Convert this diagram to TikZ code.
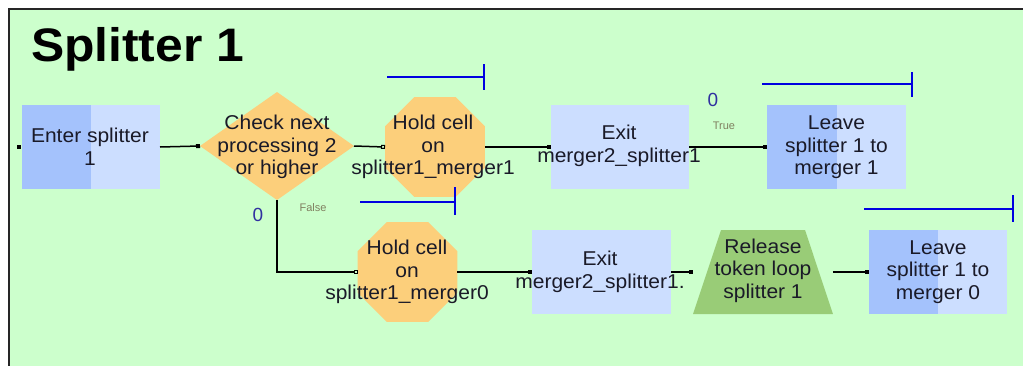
\documentclass[tikz,border=0pt]{standalone}
\usepackage{fontspec}
\setmainfont{Liberation Sans}
\newfontfamily\nodefont[FakeStretch=1.05]{Liberation Sans}
\newfontfamily\titlefont[FakeStretch=1.06]{Liberation Sans}
\usetikzlibrary{shapes.geometric,arrows.meta}
\definecolor{bg}{HTML}{CCFFCC}
\definecolor{dblue}{HTML}{A4C2FC}
\definecolor{lblue}{HTML}{CCDEFF}
\definecolor{orng}{HTML}{FCCF7B}
\definecolor{trgreen}{HTML}{99CC77}
\definecolor{txtc}{HTML}{1A1A28}
\definecolor{zeroc}{HTML}{3030A0}
\definecolor{condc}{HTML}{808060}
\definecolor{resc}{HTML}{0000E0}
\begin{document}
\begin{tikzpicture}[x=1pt,y=-1pt,
  every node/.style={inner sep=0pt,outer sep=0pt},
  rectbox/.style={rectangle,fill=lblue,minimum width=138pt,minimum height=84pt},
  twotone/.style={rectbox,path picture={\fill[dblue] (path picture bounding box.south west) rectangle (path picture bounding box.north);}},
  decide/.style={diamond,fill=orng,minimum width=154pt,minimum height=108pt},
  octa/.style={regular polygon,regular polygon sides=8,fill=orng,minimum size=108.2pt},
  trap/.style={trapezium,trapezium angle=71.6,trapezium stretches=true,fill=trgreen,minimum width=140pt,minimum height=84pt},
  txt/.style={align=center,text=txtc,font=\nodefont\fontsize{20}{22.5}\selectfont},
  conn/.style={line width=1.5pt,black},
  zero/.style={text=zeroc,font=\fontsize{19}{21}\selectfont},
  cond/.style={text=condc,font=\fontsize{11}{12}\selectfont},
  res/.style={line width=1.5pt,resc},
  ctip/.style={-{Square[length=4pt,width=4pt]}},
  otip/.style={-{Square[open,length=4pt,width=4pt,line width=1pt]}},
  stip/.style={{Bar[width=5pt,line width=1.5pt]}-}
]
\useasboundingbox (0,0) rectangle (1023,365);
\fill[bg] (8,8) rectangle (1030,370);
\draw[line width=2pt,black!85] (8.5,370) -- (8.5,8.5) -- (1030,8.5);

\node[anchor=base west,font=\titlefont\bfseries\fontsize{47}{50}\selectfont,text=black] (title) at (31,61) {Splitter 1};

% shapes
\node[twotone,minimum height=84pt] (enter) at (91,147) {};
\node[decide] (check) at (277,146) {};
\node[octa] (hold1) at (435,147) {};
\node[rectbox] (exit1) at (620,147) {};
\node[twotone,minimum width=139pt] (leave1) at (836.5,147) {};
\node[octa] (hold0) at (407.5,272) {};
\node[rectbox,minimum width=139pt] (exit2) at (601.5,272) {};
\node[trap] (rel) at (763,272) {\phantom{\rule{10pt}{10pt}}};
\node[twotone] (leave0) at (938,272) {};

\node[fill=black,minimum size=4pt,anchor=east] (entry) at ([xshift=-1pt]enter.west) {};

% texts
\node[txt] (enter-t) at (90,146.5) {Enter splitter\\1};
\node[txt] (check-t) at (277,147) {Check next\\processing 2\\or higher};
\node[txt] (hold1-t) at (433,147) {Hold cell\\on\\splitter1\_merger1};
\node[txt] (exit1-t) at (619,146) {Exit\\merger2\_splitter1};
\node[txt] (leave1-t) at (836.5,147.5) {Leave\\splitter 1 to\\merger 1};
\node[txt] (hold0-t) at (407,272) {Hold cell\\on\\splitter1\_merger0};
\node[txt] (exit2-t) at (600,272) {Exit\\merger2\_splitter1.};
\node[txt] (rel-t) at (763,270.5) {Release\\token loop\\splitter 1};
\node[txt] (leave0-t) at (938,272) {Leave\\splitter 1 to\\merger 0};

% connectors
\draw[conn,stip,ctip] (enter.east) -- (check.west);
\draw[conn,stip,otip] (check.east) -- (hold1.west);
\draw[conn,stip,ctip] (hold1.east) -- (exit1.west);
\draw[conn,stip,ctip] (exit1.east) -- (leave1.west);
\draw[conn,stip,otip] (check.south) |- (hold0.west);
\draw[conn,stip,ctip] (hold0.east) -- (exit2.west);
\draw[conn,stip,ctip] (exit2.east) -- (rel.bottom left corner |- rel.center);
\draw[conn,stip,ctip] (rel.bottom right corner |- rel.center) -- (leave0.west);

% labels
\node[zero] (z1) at (713,100) {0};
\node[cond] (t1) at (724,126) {True};
\node[zero] (z2) at (258,215) {0};
\node[cond] (f1) at (313,208) {False};

% resource bars
\draw[res] (387,77) -- (484,77) (484,64) -- (484,90);
\draw[res] (762,84) -- (912,84) (912,72) -- (912,97);
\draw[res] (360,202) -- (455,202) (455,187) -- (455,215);
\draw[res] (864,209) -- (1013,209) (1013,195) -- (1013,222);
\end{tikzpicture}
\end{document}
